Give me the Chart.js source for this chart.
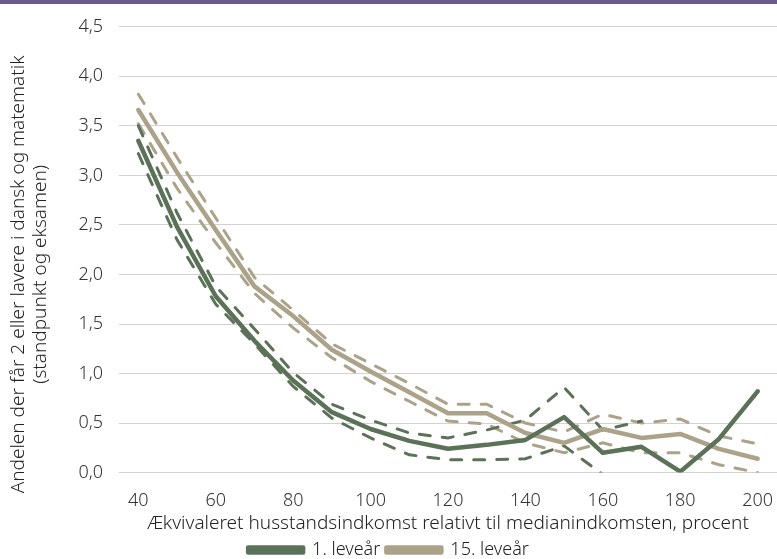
<!DOCTYPE html>
<html>
<head>
<meta charset="utf-8">
<script src="https://cdn.jsdelivr.net/npm/chart.js@4.4.1/dist/chart.umd.min.js"></script>
<style>
  html, body { margin: 0; padding: 0; background: #fff; }
  #wrap { position: relative; width: 777px; height: 559px; }
  #topbar { position: absolute; left: 0; top: 0; width: 777px; height: 4px; background: #6a5a8a; }
</style>
</head>
<body>
<div id="wrap">
  <canvas id="incomeChart" width="777" height="559"></canvas>
  <div id="topbar"></div>
</div>
<script>
// Income relative to median (percent)
const incomeLevels = ['40', '50', '60', '70', '80', '90', '100', '110', '120', '130', '140', '150', '160', '170', '180', '190', '200'];
const shownTicks = ['40', '60', '80', '100', '120', '140', '160', '180', '200'];

// 1. leveår: estimate with upper and lower bound
const firstYear = [3.35, 2.48, 1.78, 1.33, 0.93, 0.61, 0.44, 0.32, 0.24, 0.28, 0.33, 0.56, 0.20, 0.26, 0.01, 0.34, 0.82];
const firstYearUpper = [3.50, 2.62, 1.88, 1.45, 1.01, 0.69, 0.53, 0.40, 0.35, 0.43, 0.53, 0.86, 0.43, 0.52, null, null, null];
const firstYearLower = [3.22, 2.35, 1.70, 1.30, 0.87, 0.55, 0.35, 0.18, 0.13, 0.13, 0.14, 0.27, -0.02, -0.03, null, null, null];

// 15. leveår: estimate with upper and lower bound
const fifteenthYear = [3.66, 3.03, 2.45, 1.88, 1.58, 1.24, 1.02, 0.81, 0.60, 0.60, 0.40, 0.30, 0.44, 0.35, 0.39, 0.24, 0.14];
const fifteenthYearUpper = [3.82, 3.18, 2.57, 1.97, 1.64, 1.30, 1.10, 0.90, 0.69, 0.69, 0.50, 0.41, 0.59, 0.50, 0.54, 0.37, 0.29];
const fifteenthYearLower = [3.52, 2.87, 2.32, 1.81, 1.46, 1.16, 0.92, 0.72, 0.52, 0.49, 0.30, 0.20, 0.30, 0.20, 0.20, 0.08, 0.00];

const green = '#5b7259';
const beige = '#aca28a';
const font = "'Noto Sans', 'Roboto', sans-serif";

// trailing spaces push the rotated y title a bit below the plot centre, like the original
const yTitlePad = ' '.repeat(10);

function solid(label, data, color) {
    return {
        label: label, data: data,
        borderColor: color, backgroundColor: color,
        borderWidth: 4.5, pointRadius: 0, tension: 0,
        borderCapStyle: 'round', borderJoinStyle: 'round'
    };
}

function dashed(label, data, color) {
    return {
        label: label, data: data,
        borderColor: color, backgroundColor: color,
        borderWidth: 3, borderDash: [11, 12], pointRadius: 0, tension: 0,
        borderCapStyle: 'round', spanGaps: false
    };
}

const ctx = document.getElementById('incomeChart').getContext('2d');
const incomeChart = new Chart(ctx, {
    type: 'line',
    data: {
        labels: incomeLevels,
        datasets: [
            solid('1. leveår', firstYear, green),
            solid('15. leveår', fifteenthYear, beige),
            dashed('upper1', firstYearUpper, green),
            dashed('lower1', firstYearLower, green),
            dashed('upper15', fifteenthYearUpper, beige),
            dashed('lower15', fifteenthYearLower, beige)
        ]
    },
    options: {
        responsive: false,
        animation: false,
        layout: { padding: { top: 16, right: 0, left: 0, bottom: -10 } },
        scales: {
            x: {
                type: 'category',
                offset: true,
                // hidden tick marks still reserve tickLength, used here as the gap under the plot
                grid: { display: false, drawTicks: true, tickLength: 14 },
                border: { display: false },
                ticks: {
                    autoSkip: false,
                    maxRotation: 0,
                    color: '#333',
                    font: { family: font, size: 18, weight: '300' },
                    padding: 3,
                    callback: function (value) {
                        const lab = this.getLabelForValue(value);
                        return shownTicks.includes(lab) ? lab : '';
                    }
                },
                title: {
                    display: true,
                    text: 'Ækvivaleret husstandsindkomst relativt til medianindkomsten, procent',
                    color: '#222',
                    font: { family: font, size: 19, weight: '300' },
                    padding: { top: -2, bottom: 0 }
                }
            },
            y: {
                min: 0,
                max: 4.5,
                grid: { color: '#d2d2d2', lineWidth: 1, drawTicks: false },
                border: { display: false },
                ticks: {
                    stepSize: 0.5,
                    color: '#333',
                    padding: 16,
                    font: { family: font, size: 18, weight: '300' },
                    callback: (v) => v.toFixed(1).replace('.', ',')
                },
                title: {
                    display: true,
                    text: ['Andelen der får 2 eller lavere i dansk og matematik' + yTitlePad,
                           '(standpunkt og eksamen)' + yTitlePad],
                    color: '#222',
                    font: { family: font, size: 19, weight: '300', lineHeight: 1.15 },
                    padding: { top: 8, bottom: 0 }
                },
                afterFit: (axis) => { axis.width = 119; }
            }
        },
        plugins: {
            tooltip: { enabled: false },
            legend: {
                position: 'bottom',
                labels: {
                    filter: (item) => item.datasetIndex < 2,
                    boxWidth: 55,
                    boxHeight: 5,
                    color: '#222',
                    padding: 6,
                    font: { family: font, size: 18, weight: '300' }
                }
            }
        }
    }
});
</script>
</body>
</html>
